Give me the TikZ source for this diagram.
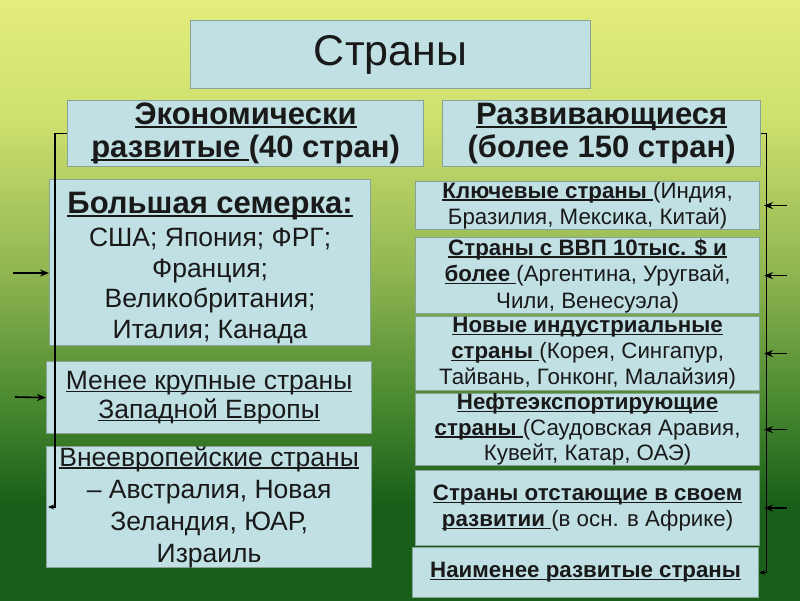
\documentclass[tikz,border=0pt]{standalone}
\usepackage{fontspec}
\setmainfont{Liberation Sans}
\usetikzlibrary{arrows.meta}

\definecolor{sfalto}{RGB}{228,237,125}
\definecolor{sfchiaro}{RGB}{205,224,110}
\definecolor{sfmedio}{RGB}{145,182,82}
\definecolor{sfverde}{RGB}{75,138,48}
\definecolor{sfbasso}{RGB}{25,95,25}
\definecolor{riempi}{RGB}{192,224,228}
\definecolor{bordo}{RGB}{135,162,150}
\definecolor{testo}{RGB}{25,25,25}

\pgfdeclareverticalshading{sfondo}{100bp}{color(0bp)=(sfbasso); color(33bp)=(sfbasso); color(41.7bp)=(sfverde); color(52.5bp)=(sfmedio); color(65bp)=(sfchiaro); color(75bp)=(sfalto); color(100bp)=(sfalto)}

% sottolineatura appena sotto la linea di base
\newsavebox{\sottbox}
\newcommand{\sott}[1]{\sbox{\sottbox}{#1}\rlap{\rule[-0.11em]{\wd\sottbox}{0.065em}}\usebox{\sottbox}}

\tikzset{
  scatola/.style={draw=bordo, fill=riempi, line width=1.2pt, inner sep=0pt,
    align=center, text=testo, anchor=north west},
  freccia/.style={-{Stealth[length=9pt,width=7pt]}, line width=1.6pt},
  parentesi/.style={-{Stealth[length=6pt,width=5pt]}, line width=1.3pt},
}

\begin{document}
\begin{tikzpicture}[x=1pt,y=-1pt]

        % Disegna lo sfondo
        \useasboundingbox (0,0) rectangle (800,600);
        \shade[shading=sfondo] (0,0) rectangle (800,600);

        % Disegna le scatole in alto
        \node[scatola, minimum width=400pt, minimum height=68pt, font=\fontsize{43}{50}\selectfont] (paesi) at (190,20) {Страны};
        \node[scatola, minimum width=356pt, minimum height=66pt, font=\bfseries\fontsize{31}{33}\selectfont] (sviluppati) at (67,100)
          {\sott{Экономически}\\\sott{развитые }(40 стран)};
        \node[scatola, minimum width=318pt, minimum height=66pt, font=\bfseries\fontsize{31}{33}\selectfont] (emergenti) at (442,100)
          {\sott{Развивающиеся}\\(более 150 стран)};

        % Disegna le scatole a sinistra
        \node[scatola, minimum width=321pt, minimum height=166pt, font=\fontsize{26.5}{30.5}\selectfont] (gsette) at (49,179)
          {\rule{0pt}{32pt}{\bfseries\fontsize{31}{31}\selectfont\sott{Большая семерка:}}\\[3pt]США; Япония; ФРГ;\\Франция;\\Великобритания;\\Италия; Канада};
        \node[scatola, minimum width=325pt, minimum height=72pt, font=\fontsize{26.5}{29}\selectfont] (europa) at (46,361)
          {\sott{Менее крупные страны}\\\sott{Западной Европы}};
        \node[scatola, minimum width=325pt, minimum height=121pt, font=\fontsize{26.5}{32}\selectfont] (extraeu) at (46,446)
          {\sott{Внеевропейские страны}\\– Австралия, Новая\\Зеландия, ЮАР,\\Израиль};

        % Disegna le scatole a destra
        \node[scatola, minimum width=344pt, minimum height=48pt, font=\fontsize{22.3}{26.5}\selectfont] (chiave) at (415,181)
          {\textbf{\sott{Ключевые страны }}(Индия,\\Бразилия, Мексика, Китай)};
        \node[scatola, minimum width=344pt, minimum height=76pt, font=\fontsize{22.3}{26.5}\selectfont] (pil) at (415,237)
          {\textbf{\sott{Страны с ВВП 10тыс. \$ и}}\\\textbf{\sott{более }}(Аргентина, Уругвай,\\Чили, Венесуэла)};
        \node[scatola, minimum width=344pt, minimum height=74pt, font=\fontsize{22.3}{26}\selectfont] (nuovi) at (415,316)
          {\textbf{\sott{Новые индустриальные}}\\\textbf{\sott{страны }}(Корея, Сингапур,\\Тайвань, Гонконг, Малайзия)};
        \node[scatola, minimum width=344pt, minimum height=72pt, font=\fontsize{22.3}{25.5}\selectfont] (petrolio) at (415,393)
          {\textbf{\sott{Нефтеэкспортирующие}}\\\textbf{\sott{страны }}(Саудовская Аравия,\\Кувейт, Катар, ОАЭ)};
        \node[scatola, minimum width=344pt, minimum height=75pt, font=\fontsize{22.3}{26}\selectfont] (ritardo) at (415,470)
          {\textbf{\sott{Страны отстающие в своем}}\\\textbf{\sott{развитии }}(в осн. в Африке)};
        \node[scatola, minimum width=346pt, minimum height=50pt, font=\fontsize{22.3}{26}\selectfont] (meno) at (412,547)
          {\textbf{\sott{Наименее развитые страны}}};

        % Disegna le parentesi
        \coordinate (sxfine) at (48,507);
        \draw[parentesi] (sviluppati.west) -- ++(-12,0) |- (sxfine);
        \draw[parentesi] (emergenti.east) -- ++(5,0) |- (meno.east);

        % Disegna le frecce a sinistra
        \coordinate (sxuno) at (13,273);
        \coordinate (sxdue) at (15,397);
        \draw[freccia] (sxuno) -- (sxuno -| gsette.west);
        \draw[freccia] (sxdue) -- (europa.west);

        % Disegna le frecce a destra
        \coordinate (dxfuori) at (787,0);
        \coordinate (dxlinea) at (764,0);
        \foreach \n in {chiave,pil,nuovi,petrolio,ritardo} {
          \draw[freccia] (\n.east -| dxfuori) -- (\n.east -| dxlinea);
        }

\end{tikzpicture}
\end{document}
